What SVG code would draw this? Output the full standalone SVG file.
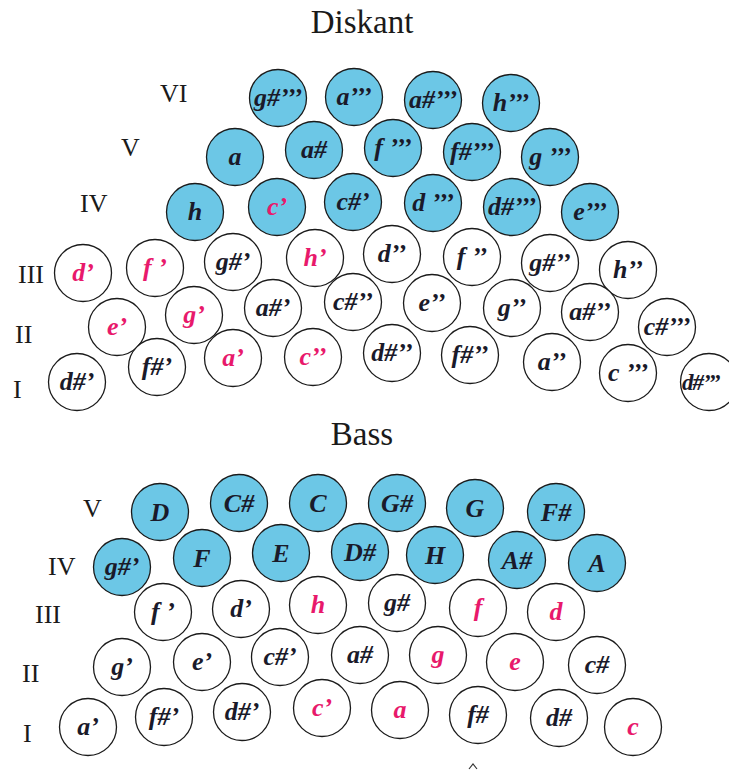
<svg xmlns="http://www.w3.org/2000/svg" width="729" height="771" viewBox="0 0 729 771">
<style>
.k circle{stroke:#1a1a1a;stroke-width:1.3}
.b circle{fill:#6cc7e6}
.w circle{fill:#ffffff}
.k text{font-family:"Liberation Serif","Times New Roman",serif;font-style:italic;font-weight:bold;font-size:26px;text-anchor:middle;fill:#1a1a2a}
.k.p text{fill:#e8196b}
.t{font-family:"Liberation Serif","Times New Roman",serif;font-size:33px;fill:#1a1a1a;text-anchor:middle}
.r{font-family:"Liberation Serif","Times New Roman",serif;font-size:26px;fill:#1a1a1a}
</style>
<rect width="729" height="771" fill="#ffffff"/>
<text class="t" x="362" y="33">Diskant</text>
<text class="t" x="362" y="445">Bass</text>
<g id="row-labels">
<text class="r" x="160" y="102">VI</text>
<text class="r" x="121" y="156">V</text>
<text class="r" x="80" y="212">IV</text>
<text class="r" x="18" y="283">III</text>
<text class="r" x="15" y="343">II</text>
<text class="r" x="13" y="398">I</text>
<text class="r" x="83" y="517">V</text>
<text class="r" x="48" y="575">IV</text>
<text class="r" x="35" y="623">III</text>
<text class="r" x="22" y="682">II</text>
<text class="r" x="23" y="742">I</text>
</g>
<g id="connectors"></g>
<g id="diskant">
<g id="d-gis3" class="k b"><circle cx="278" cy="98" r="28.5"/><text x="278" y="106">g#’’’</text></g>
<g id="d-a3" class="k b"><circle cx="354" cy="97" r="28.5"/><text x="354" y="105">a’’’</text></g>
<g id="d-ais3" class="k b"><circle cx="433" cy="100" r="28.5"/><text x="433" y="108">a#’’’</text></g>
<g id="d-h3" class="k b"><circle cx="511" cy="103" r="28.5"/><text x="511" y="111">h’’’</text></g>
<g id="d-a" class="k b"><circle cx="235" cy="157" r="28.5"/><text x="235" y="165">a</text></g>
<g id="d-ais" class="k b"><circle cx="314" cy="150" r="28.5"/><text x="314" y="158">a#</text></g>
<g id="d-f3" class="k b"><circle cx="393" cy="148" r="28.5"/><text x="393" y="156">f ’’’</text></g>
<g id="d-fis3" class="k b"><circle cx="472" cy="152" r="28.5"/><text x="472" y="160">f#’’’</text></g>
<g id="d-g3" class="k b"><circle cx="550" cy="157" r="28.5"/><text x="550" y="165">g ’’’</text></g>
<g id="d-h" class="k b"><circle cx="195" cy="212" r="28.5"/><text x="195" y="220">h</text></g>
<g id="d-c1" class="k b p"><circle cx="277" cy="207" r="28.5"/><text x="277" y="215">c’</text></g>
<g id="d-cis1" class="k b"><circle cx="353" cy="202" r="28.5"/><text x="353" y="210">c#’</text></g>
<g id="d-d3" class="k b"><circle cx="433" cy="203" r="28.5"/><text x="433" y="211">d ’’’</text></g>
<g id="d-dis3" class="k b"><circle cx="512" cy="207" r="28.5"/><text x="512" y="215">d#’’’</text></g>
<g id="d-e3" class="k b"><circle cx="590" cy="212" r="28.5"/><text x="590" y="220">e’’’</text></g>
<g id="d-d1" class="k w p"><circle cx="83" cy="273" r="28.5"/><text x="83" y="281">d’</text></g>
<g id="d-f1" class="k w p"><circle cx="155" cy="268" r="28.5"/><text x="155" y="276">f ’</text></g>
<g id="d-gis1" class="k w"><circle cx="233" cy="262" r="28.5"/><text x="233" y="270">g#’</text></g>
<g id="d-h1" class="k w p"><circle cx="315" cy="258" r="28.5"/><text x="315" y="266">h’</text></g>
<g id="d-d2" class="k w"><circle cx="392" cy="254" r="28.5"/><text x="392" y="262">d’’</text></g>
<g id="d-f2" class="k w"><circle cx="472" cy="257" r="28.5"/><text x="472" y="265">f ’’</text></g>
<g id="d-gis2" class="k w"><circle cx="550" cy="263" r="28.5"/><text x="550" y="271">g#’’</text></g>
<g id="d-h2" class="k w"><circle cx="628" cy="270" r="28.5"/><text x="628" y="278">h’’</text></g>
<g id="d-e1" class="k w p"><circle cx="117" cy="327" r="28.5"/><text x="117" y="335">e’</text></g>
<g id="d-g1" class="k w p"><circle cx="194" cy="315" r="28.5"/><text x="194" y="323">g’</text></g>
<g id="d-ais1" class="k w"><circle cx="273" cy="308" r="28.5"/><text x="273" y="316">a#’</text></g>
<g id="d-cis2" class="k w"><circle cx="353" cy="302" r="28.5"/><text x="353" y="310">c#’’</text></g>
<g id="d-e2" class="k w"><circle cx="432" cy="303" r="28.5"/><text x="432" y="311">e’’</text></g>
<g id="d-g2" class="k w"><circle cx="512" cy="308" r="28.5"/><text x="512" y="316">g’’</text></g>
<g id="d-ais2" class="k w"><circle cx="590" cy="312" r="28.5"/><text x="590" y="320">a#’’</text></g>
<g id="d-cis3" class="k w"><circle cx="667" cy="327" r="28.5"/><text x="667" y="335">c#’’’</text></g>
<g id="d-dis1" class="k w"><circle cx="77" cy="382" r="28.5"/><text x="77" y="390">d#’</text></g>
<g id="d-fis1" class="k w"><circle cx="157" cy="367" r="28.5"/><text x="157" y="375">f#’</text></g>
<g id="d-a1" class="k w p"><circle cx="233" cy="358" r="28.5"/><text x="233" y="366">a’</text></g>
<g id="d-c2" class="k w p"><circle cx="313" cy="357" r="28.5"/><text x="313" y="365">c’’</text></g>
<g id="d-dis2" class="k w"><circle cx="392" cy="353" r="28.5"/><text x="392" y="361">d#’’</text></g>
<g id="d-fis2" class="k w"><circle cx="470" cy="355" r="28.5"/><text x="470" y="363">f#’’</text></g>
<g id="d-a2" class="k w"><circle cx="552" cy="362" r="28.5"/><text x="552" y="370">a’’</text></g>
<g id="d-c3" class="k w"><circle cx="628" cy="373" r="28.5"/><text x="628" y="381">c ’’’</text></g>
<g id="d-dis3b" class="k w"><circle cx="709" cy="382" r="28.5"/><text x="682" y="390" style="text-anchor:start;font-size:23px;letter-spacing:-1px">d#’’’</text></g>
</g>
<g id="bass">
<g id="b-D" class="k b"><circle cx="160" cy="512" r="28.5"/><text x="160" y="521">D</text></g>
<g id="b-Cis" class="k b"><circle cx="239" cy="503" r="28.5"/><text x="239" y="512">C#</text></g>
<g id="b-C" class="k b"><circle cx="318" cy="503" r="28.5"/><text x="318" y="512">C</text></g>
<g id="b-Gis" class="k b"><circle cx="397" cy="503" r="28.5"/><text x="397" y="512">G#</text></g>
<g id="b-G" class="k b"><circle cx="475" cy="508" r="28.5"/><text x="475" y="517">G</text></g>
<g id="b-Fis" class="k b"><circle cx="556" cy="512" r="28.5"/><text x="556" y="521">F#</text></g>
<g id="b-gis1" class="k b"><circle cx="122" cy="567" r="28.5"/><text x="122" y="575">g#’</text></g>
<g id="b-F" class="k b"><circle cx="202" cy="558" r="28.5"/><text x="202" y="567">F</text></g>
<g id="b-E" class="k b"><circle cx="281" cy="553" r="28.5"/><text x="281" y="562">E</text></g>
<g id="b-Dis" class="k b"><circle cx="360" cy="552" r="28.5"/><text x="360" y="561">D#</text></g>
<g id="b-H" class="k b"><circle cx="435" cy="555" r="28.5"/><text x="435" y="564">H</text></g>
<g id="b-Ais" class="k b"><circle cx="517" cy="560" r="28.5"/><text x="517" y="569">A#</text></g>
<g id="b-A" class="k b"><circle cx="597" cy="563" r="28.5"/><text x="597" y="572">A</text></g>
<g id="b-f1" class="k w"><circle cx="163" cy="612" r="28.5"/><text x="163" y="620">f ’</text></g>
<g id="b-d1" class="k w"><circle cx="241" cy="609" r="28.5"/><text x="241" y="617">d’</text></g>
<g id="b-h" class="k w p"><circle cx="318" cy="605" r="28.5"/><text x="318" y="613">h</text></g>
<g id="b-gis" class="k w"><circle cx="397" cy="603" r="28.5"/><text x="397" y="611">g#</text></g>
<g id="b-f" class="k w p"><circle cx="478" cy="608" r="28.5"/><text x="478" y="616">f</text></g>
<g id="b-d" class="k w p"><circle cx="556" cy="612" r="28.5"/><text x="556" y="620">d</text></g>
<g id="b-g1" class="k w"><circle cx="122" cy="667" r="28.5"/><text x="122" y="675">g’</text></g>
<g id="b-e1" class="k w"><circle cx="202" cy="662" r="28.5"/><text x="202" y="670">e’</text></g>
<g id="b-cis1" class="k w"><circle cx="280" cy="657" r="28.5"/><text x="280" y="665">c#’</text></g>
<g id="b-ais" class="k w"><circle cx="360" cy="655" r="28.5"/><text x="360" y="663">a#</text></g>
<g id="b-g" class="k w p"><circle cx="438" cy="655" r="28.5"/><text x="438" y="663">g</text></g>
<g id="b-e" class="k w p"><circle cx="515" cy="662" r="28.5"/><text x="515" y="670">e</text></g>
<g id="b-cis" class="k w"><circle cx="597" cy="665" r="28.5"/><text x="597" y="673">c#</text></g>
<g id="b-a1" class="k w"><circle cx="88" cy="727" r="28.5"/><text x="88" y="735">a’</text></g>
<g id="b-fis1" class="k w"><circle cx="164" cy="717" r="28.5"/><text x="164" y="725">f#’</text></g>
<g id="b-dis1" class="k w"><circle cx="242" cy="712" r="28.5"/><text x="242" y="720">d#’</text></g>
<g id="b-c1" class="k w p"><circle cx="322" cy="708" r="28.5"/><text x="322" y="716">c’</text></g>
<g id="b-a" class="k w p"><circle cx="400" cy="710" r="28.5"/><text x="400" y="718">a</text></g>
<g id="b-fis" class="k w"><circle cx="478" cy="715" r="28.5"/><text x="478" y="723">f#</text></g>
<g id="b-dis" class="k w"><circle cx="559" cy="718" r="28.5"/><text x="559" y="726">d#</text></g>
<g id="b-c" class="k w p"><circle cx="633" cy="727" r="28.5"/><text x="633" y="735">c</text></g>
</g>
<path d="M469,769 L473,764 L477,769" fill="none" stroke="#333" stroke-width="1.2"/>
</svg>
